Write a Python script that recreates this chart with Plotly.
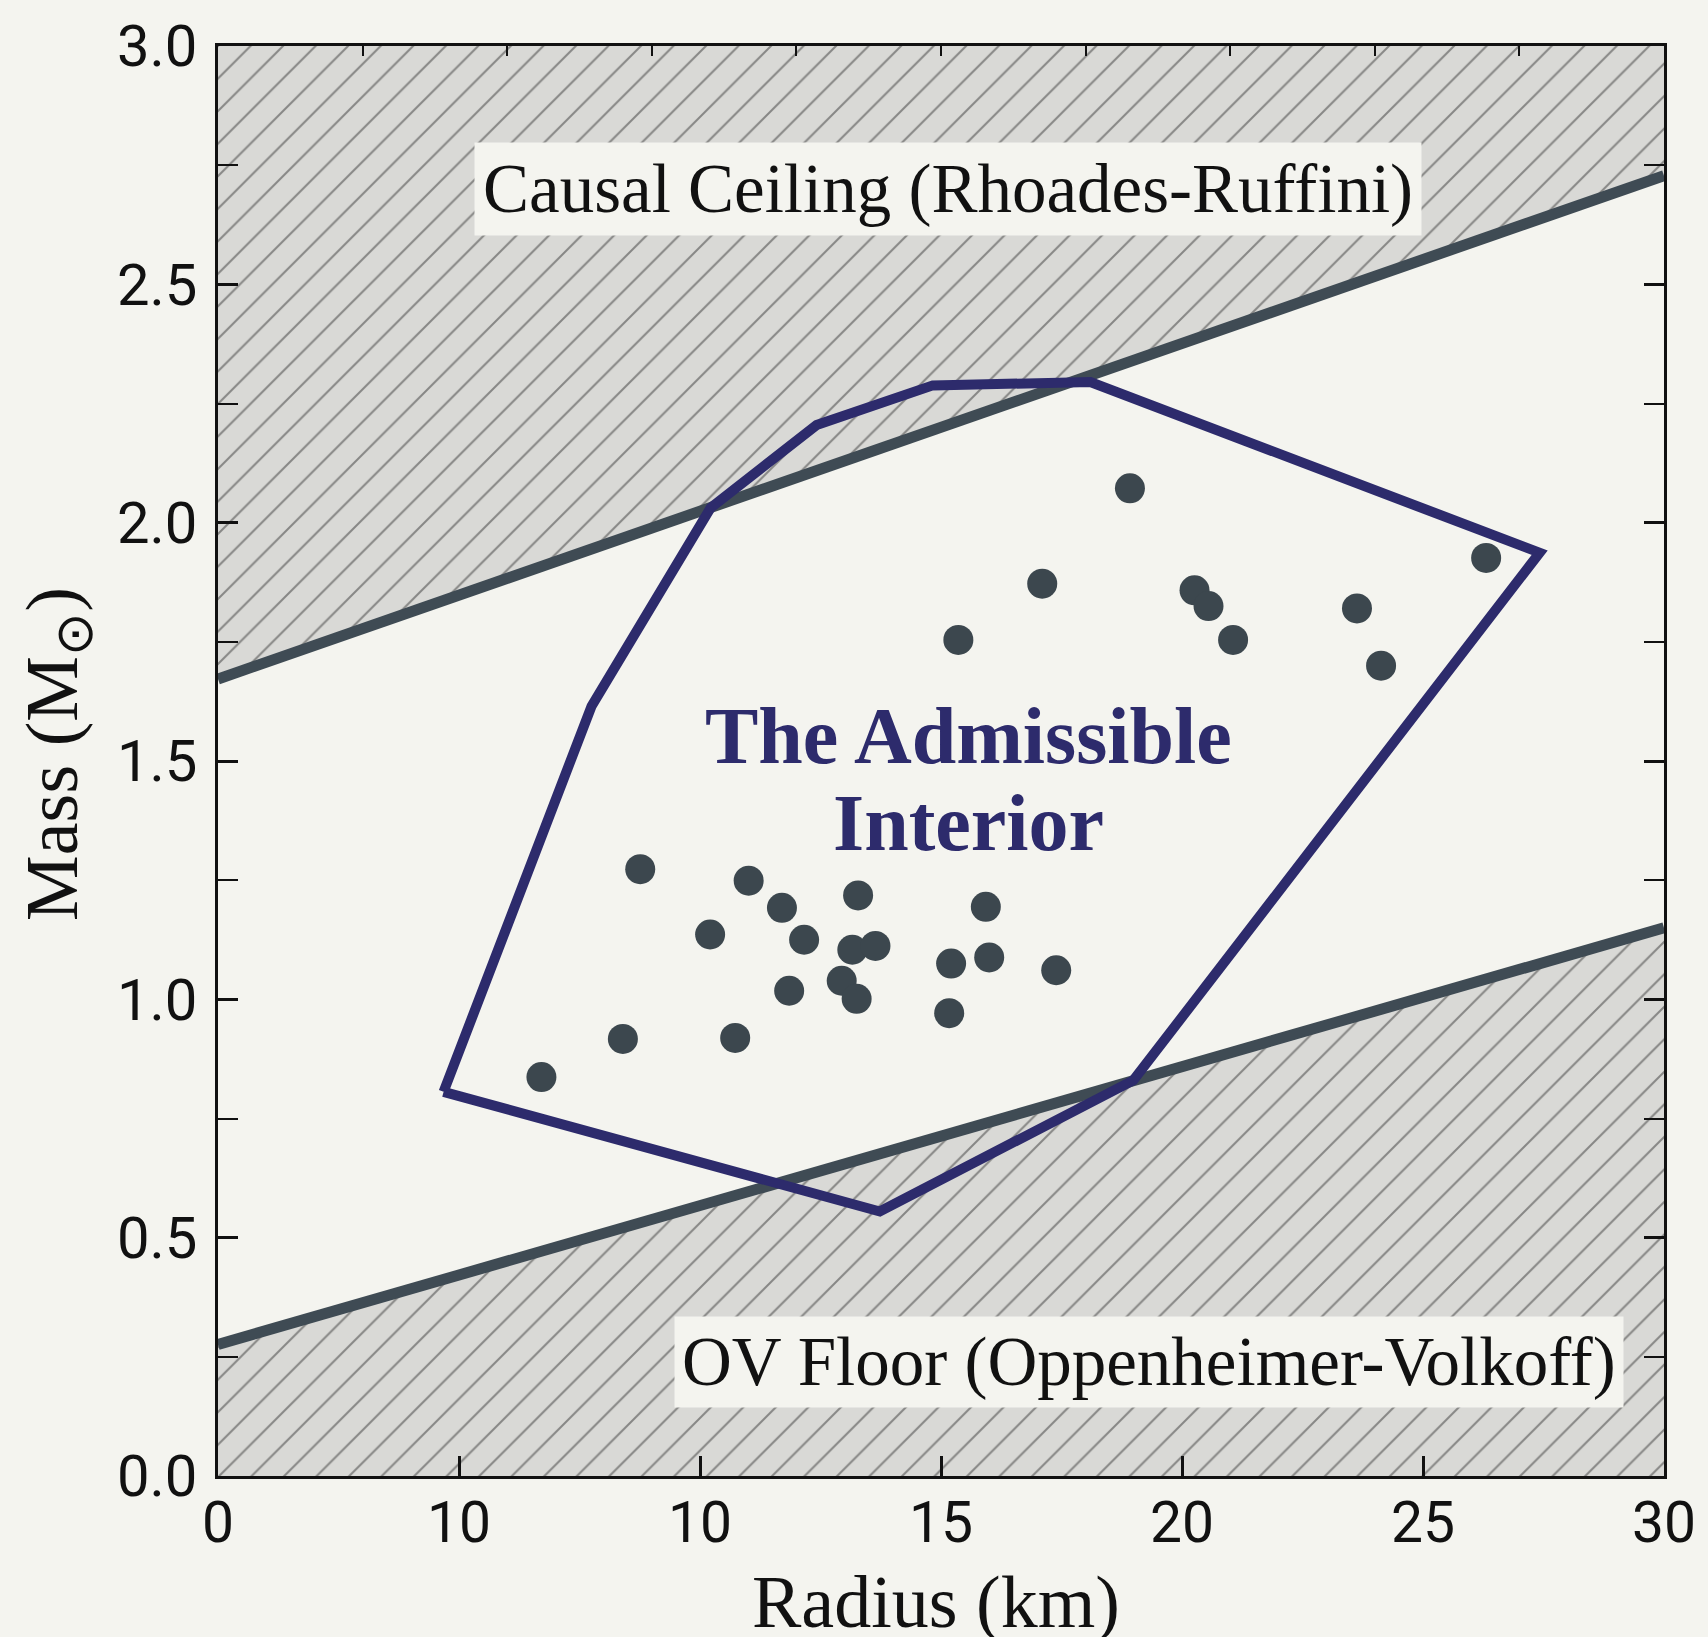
import plotly.graph_objects as go

# ---- data ----
x_tick_vals = [0, 5, 10, 15, 20, 25, 30]
x_tick_text = ["0", "10", "10", "15", "20", "25", "30"]
y_tick_vals = [0.0, 0.5, 1.0, 1.5, 2.0, 2.5, 3.0]
y_tick_text = ["0.0", "0.5", "1.0", "1.5", "2.0", "2.5", "3.0"]

x_range = [0, 30]
y_range = [0, 3]

ceiling_r = [0, 30]
ceiling_m = [1.672, 2.728]
floor_r = [0, 30]
floor_m = [0.276, 1.150]

poly_r = [4.68, 7.75, 10.22, 12.42, 14.83, 18.1, 27.42, 18.99, 13.73, 4.68]
poly_m = [0.806, 1.615, 2.031, 2.205, 2.288, 2.295, 1.937, 0.83, 0.555, 0.806]

star_radius = [8.76, 11.01, 11.70, 10.21, 12.16, 13.28, 13.16, 13.64, 12.94, 13.25,
               11.85, 15.93, 15.21, 16.00, 15.17, 8.40, 10.73, 6.71, 17.39, 18.92,
               17.10, 15.36, 20.26, 20.55, 21.06, 23.63, 24.13, 26.31]
star_mass = [1.273, 1.249, 1.192, 1.136, 1.125, 1.218, 1.104, 1.112, 1.039, 1.001,
             1.018, 1.194, 1.075, 1.088, 0.971, 0.917, 0.919, 0.837, 1.061, 2.072,
             1.872, 1.754, 1.858, 1.825, 1.754, 1.820, 1.700, 1.926]

ceiling_label = "Causal Ceiling (Rhoades-Ruffini)"
floor_label = "OV Floor (Oppenheimer-Volkoff)"
interior_label = ["The Admissible", "Interior"]

# ---- styles ----
BG = "#f4f4ef"
HATCH_BG = "#d9d9d6"
HATCH_FG = "#363636"
BOUND = "#3f4b54"
NAVY = "#2d2b6c"
DOT = "#3c474e"
SERIF = "Liberation Serif, Times New Roman, serif"
SANS = "Roboto, Liberation Sans, Arial, sans-serif"

fig = go.Figure()

hatch = dict(shape="/", bgcolor=HATCH_BG, fgcolor=HATCH_FG, size=23, solidity=0.09)

# upper excluded region (above causal ceiling)
fig.add_trace(go.Scatter(
    x=[ceiling_r[0], ceiling_r[1], ceiling_r[1], ceiling_r[0], ceiling_r[0]],
    y=[ceiling_m[0], ceiling_m[1], y_range[1], y_range[1], ceiling_m[0]],
    mode="lines", line=dict(width=0, color=HATCH_BG), fill="toself",
    fillcolor=HATCH_BG, fillpattern=hatch, hoverinfo="skip", showlegend=False))
# lower excluded region (below OV floor)
fig.add_trace(go.Scatter(
    x=[floor_r[0], floor_r[1], floor_r[1], floor_r[0], floor_r[0]],
    y=[floor_m[0], floor_m[1], y_range[0], y_range[0], floor_m[0]],
    mode="lines", line=dict(width=0, color=HATCH_BG), fill="toself",
    fillcolor=HATCH_BG, fillpattern=hatch, hoverinfo="skip", showlegend=False))

# boundary lines
fig.add_trace(go.Scatter(x=ceiling_r, y=ceiling_m, mode="lines",
                         line=dict(color=BOUND, width=11), showlegend=False))
fig.add_trace(go.Scatter(x=floor_r, y=floor_m, mode="lines",
                         line=dict(color=BOUND, width=11), showlegend=False))

# admissible polygon
fig.add_trace(go.Scatter(x=poly_r, y=poly_m, mode="lines",
                         line=dict(color=NAVY, width=10, shape="linear"),
                         showlegend=False))

# stars
fig.add_trace(go.Scatter(x=star_radius, y=star_mass, mode="markers",
                         marker=dict(size=30, color=DOT, line=dict(width=0)),
                         showlegend=False))

# invisible trace for the top axis
fig.add_trace(go.Scatter(x=[x_range[0]], y=[y_range[0]], xaxis="x2", mode="markers",
                         marker=dict(size=1, opacity=0), showlegend=False,
                         hoverinfo="skip"))

annotations = [
    dict(x=15.14, y=2.700, xref="x", yref="y", text=ceiling_label, showarrow=False,
         font=dict(family=SERIF, size=69, color="#111111"), bgcolor=BG,
         borderpad=8, xanchor="center", yanchor="middle"),
    dict(x=19.32, y=0.240, xref="x", yref="y", text=floor_label, showarrow=False,
         font=dict(family=SERIF, size=69, color="#111111"), bgcolor=BG,
         borderpad=7, xanchor="center", yanchor="middle"),
    dict(x=15.57, y=1.552, xref="x", yref="y", text="<b>%s</b>" % interior_label[0],
         showarrow=False, font=dict(family=SERIF, size=80, color=NAVY),
         xanchor="center", yanchor="middle"),
    dict(x=15.57, y=1.369, xref="x", yref="y", text="<b>%s</b>" % interior_label[1],
         showarrow=False, font=dict(family=SERIF, size=80, color=NAVY),
         xanchor="center", yanchor="middle"),
    dict(x=0.4966, y=-0.0880, xref="paper", yref="paper", text="Radius (km)",
         showarrow=False, font=dict(family=SERIF, size=74, color="#111111"),
         xanchor="center", yanchor="middle"),
    dict(x=-0.111, y=0.5052, xref="paper", yref="paper", text="Mass (M<sub>⊙</sub>)",
         showarrow=False, textangle=-90,
         font=dict(family=SERIF, size=74, color="#111111"),
         xanchor="center", yanchor="middle"),
]

fig.update_layout(
    width=1708, height=1637,
    margin=dict(l=218, r=32, t=38, b=161),
    paper_bgcolor=BG, plot_bgcolor=BG,
    showlegend=False,
    annotations=annotations,
    xaxis=dict(range=x_range, tickmode="array", tickvals=x_tick_vals, ticktext=x_tick_text,
               ticks="inside", ticklen=20, tickwidth=3, tickcolor="#111111",
               showline=True, linecolor="#111111", linewidth=3, mirror=True,
               showgrid=False, zeroline=False, ticklabeloverflow="allow",
               tickfont=dict(family=SANS, size=57, color="#111111"),
               ticklabelstandoff=-5),
    xaxis2=dict(range=x_range, overlaying="x", side="top", tickmode="linear",
                tick0=0, dtick=3, ticks="inside", ticklen=10, tickwidth=2,
                tickcolor="#111111", showticklabels=False, showgrid=False,
                zeroline=False, showline=False),
    yaxis=dict(range=y_range, tickmode="array", tickvals=y_tick_vals, ticktext=y_tick_text,
               ticks="inside", ticklen=20, tickwidth=3, tickcolor="#111111",
               showline=True, linecolor="#111111", linewidth=3, mirror="allticks",
               showgrid=False, zeroline=False,
               minor=dict(ticks="inside", ticklen=10, tickwidth=2, dtick=0.25,
                          tickcolor="#111111", showgrid=False),
               tickfont=dict(family=SANS, size=58, color="#111111"),
               ticklabelstandoff=6),
)

fig.write_html(
    "out.html",
    config={"displayModeBar": False},
    post_script="document.body.style.margin='0';document.body.style.background='%s';" % BG,
)
